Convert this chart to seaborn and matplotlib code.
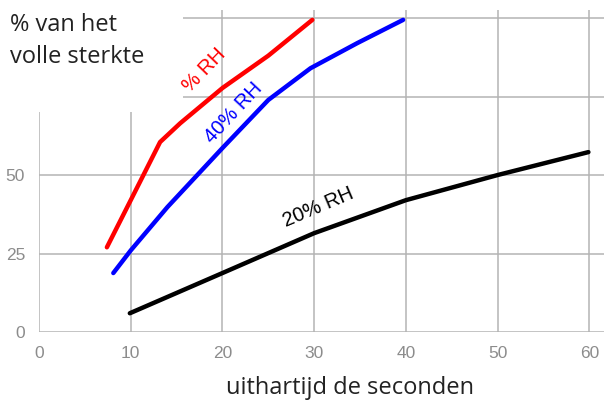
import matplotlib
matplotlib.use('Agg')
import matplotlib.pyplot as plt
import seaborn as sns
import pandas as pd
from matplotlib.patches import Rectangle

# curves (x = seconds, y = % of full strength)
x60 = [7.4, 10, 13.2, 15.4, 20, 25, 29.8]
y60 = [27, 42, 60.5, 66.5, 77.7, 88, 99.4]
x40 = [8.1, 10, 14, 20, 25, 29.6, 34.7, 39.7]
y40 = [18.8, 26, 39.8, 58.6, 73.9, 84, 92, 99.4]
x20 = [9.9, 20, 30, 40, 50, 59.9]
y20 = [6, 18.8, 31.5, 42, 50, 57.3]

xticks = [0, 10, 20, 30, 40, 50, 60]
yticks = [0, 25, 50]
yticks_hidden = [75, 100]

df = pd.concat([
    pd.DataFrame({'t': x60, 'sterkte': y60, 'rh': '60% RH'}),
    pd.DataFrame({'t': x40, 'sterkte': y40, 'rh': '40% RH'}),
    pd.DataFrame({'t': x20, 'sterkte': y20, 'rh': '20% RH'}),
])
kleuren = {'60% RH': '#ff0000', '40% RH': '#0000ff', '20% RH': '#000000'}

sns.set_style('white')
plt.rcParams['font.family'] = ['Open Sans', 'DejaVu Sans']

fig = plt.figure(figsize=(6.04, 4.05), dpi=100)
ax = fig.add_axes([0.0646, 0.180, 0.9354, 0.795])

sns.lineplot(data=df, x='t', y='sterkte', hue='rh', palette=kleuren,
             linewidth=3.2, legend=False, ax=ax, zorder=3, sort=False)

ax.set_xlim(0, 61.6)
ax.set_ylim(0, 102.5)
ax.set_xticks(xticks)
ax.set_yticks(yticks)
ax.set_yticks(yticks_hidden, minor=True)
ax.grid(True, which='both', color='#b4b4b4', linewidth=1.1, zorder=0)
ax.set_axisbelow(True)
for s in ax.spines.values():
    s.set_visible(False)
ax.tick_params(axis='both', which='major', length=6, width=1, color='#b4b4b4',
               labelcolor='#8c8c8c', labelsize=12.5, pad=4)
ax.tick_params(axis='y', which='minor', length=0)
for lab in ax.get_xticklabels() + ax.get_yticklabels():
    lab.set_family(['Liberation Sans', 'DejaVu Sans'])

# white block behind the y-axis title, hiding the top-left grid
ax.add_patch(Rectangle((0, 0.723), 0.303, 0.3, transform=fig.transFigure,
                       facecolor='white', edgecolor='none', zorder=1, clip_on=False))

fig.text(10 / 604, 1 - 41 / 405, '% van het\nvolle sterkte', fontsize=17,
         color='#222222', ha='left', va='center', linespacing=1.45)

ax.set_xlabel('uithartijd de seconden', fontsize=17, color='#222222', va='center')
ax.xaxis.set_label_coords(0.55, -0.174)
ax.set_ylabel('')

lab_font = ['Liberation Sans', 'DejaVu Sans']
ax.text(30.4, 39.8, '20% RH', rotation=23, color='black', fontsize=14.5,
        ha='center', va='center', family=lab_font, zorder=4)
ax.text(21.2, 69.7, '40% RH', rotation=47, color='#0000ff', fontsize=14.5,
        ha='center', va='center', family=lab_font, zorder=4)
ax.text(18.0, 83.4, '% RH', rotation=46, color='#ff0000', fontsize=14.5,
        ha='center', va='center', family=lab_font, zorder=4)

fig.savefig('out.png', dpi=100)
